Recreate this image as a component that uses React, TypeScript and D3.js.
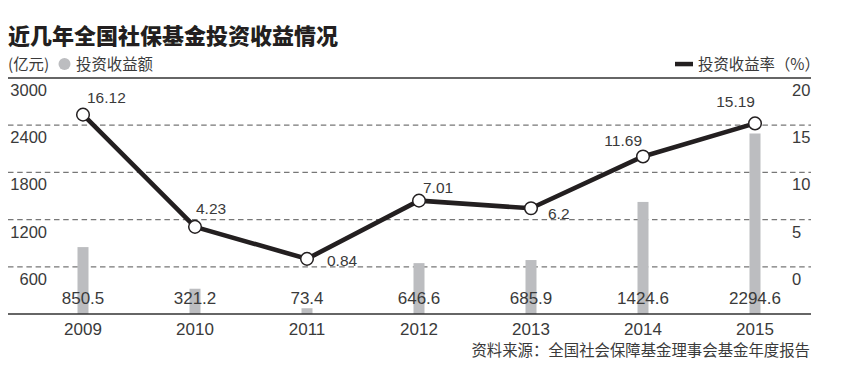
import React from 'react';
import * as d3 from 'd3';

const years = ['2009', '2010', '2011', '2012', '2013', '2014', '2015'];
const incomeValues = [850.5, 321.2, 73.4, 646.6, 685.9, 1424.6, 2294.6];
const returnRates = [16.12, 4.23, 0.84, 7.01, 6.2, 11.69, 15.19];
const leftTicks = [600, 1200, 1800, 2400, 3000];
const rightTicks = [0, 5, 10, 15, 20];

const titleText = '近几年全国社保基金投资收益情况';
const unitText = '(亿元)';
const barLegendText = '投资收益额';
const lineLegendText = '投资收益率（%）';
const sourceText = '资料来源：全国社会保障基金理事会基金年度报告';

// label placement for rate labels (layout only)
const rateLabelPlacement = [
  { anchor: 'start', dx: 4, dy: -11.6 },
  { anchor: 'start', dx: 1, dy: -12.6 },
  { anchor: 'start', dx: 20, dy: 7.4 },
  { anchor: 'start', dx: 4, dy: -7.4 },
  { anchor: 'start', dx: 17, dy: 11 },
  { anchor: 'end', dx: -1, dy: -10.3 },
  { anchor: 'end', dx: 0, dy: -16.8 },
];

const W = 849;
const H = 381;
const left = 8;
const right = 811;
const top = 78;
const base = 314;

const latin = '"Liberation Sans", Arial, Helvetica, sans-serif';
const cjk = '"Noto Sans CJK SC", "Liberation Sans", sans-serif';

export default function App() {
  const x = d3.scalePoint<string>().domain(years).range([83, 755]);
  const yL = d3.scaleLinear().domain([0, 3000]).range([base, top]);
  const yR = d3.scaleLinear().domain([0, 20]).range([yL(600), top]);

  const line = d3
    .line<number>()
    .x((_, i) => x(years[i]) as number)
    .y((d) => yR(d));

  const barW = 11;
  const textColor = '#3a3a3a';

  return (
    <svg
      width={W}
      height={H}
      style={{ position: 'absolute', left: 0, top: 0, background: '#fff' }}
    >
      {/* title */}
      <text x={left} y={43.5} fontFamily={cjk} fontWeight={900} fontSize={22} fill="#231f20">
        {titleText}
      </text>
      {/* legend left */}
      <text x={left} y={70} fontFamily={cjk} fontSize={15.4} fill={textColor}>
        {unitText}
      </text>
      <circle cx={64.5} cy={64} r={6} fill="#bcbdc0" />
      <text x={76} y={70} fontFamily={cjk} fontSize={15.4} fill={textColor}>
        {barLegendText}
      </text>
      {/* legend right */}
      <rect x={675} y={61.8} width={18} height={4.5} fill="#231f20" />
      <text x={698} y={70} textAnchor="start" fontFamily={cjk} fontSize={15.4} fill={textColor}>
        {lineLegendText}
      </text>

      {/* top line */}
      <line x1={left} x2={right} y1={top} y2={top} stroke="#333" strokeWidth={1.3} />

      {/* gridlines */}
      {leftTicks
        .filter((t) => t < 3000)
        .map((t) => (
          <line
            key={'g' + t}
            x1={left}
            x2={right}
            y1={yL(t)}
            y2={yL(t)}
            stroke="#777"
            strokeWidth={1.2}
            strokeDasharray="5.5,3.7"
          />
        ))}

      {/* left tick labels */}
      {leftTicks.map((t) => (
        <text
          key={'lt' + t}
          x={47}
          y={yL(t) + 18}
          textAnchor="end"
          fontFamily={latin}
          fontSize={16.5}
          fill={textColor}
        >
          {t}
        </text>
      ))}
      {/* right tick labels */}
      {rightTicks.map((t) => (
        <text
          key={'rt' + t}
          x={792}
          y={yR(t) + 18}
          textAnchor="start"
          fontFamily={latin}
          fontSize={16.5}
          fill={textColor}
        >
          {t}
        </text>
      ))}

      {/* bars */}
      {incomeValues.map((v, i) => (
        <rect
          key={'b' + i}
          x={(x(years[i]) as number) - barW / 2}
          y={yL(v)}
          width={barW}
          height={base - yL(v)}
          fill="#bcbdc0"
        />
      ))}

      {/* bar value labels */}
      {incomeValues.map((v, i) => (
        <text
          key={'bl' + i}
          x={x(years[i]) as number}
          y={304}
          textAnchor="middle"
          fontFamily={latin}
          fontSize={17}
          fill={textColor}
        >
          {v}
        </text>
      ))}

      {/* baseline axis */}
      <line x1={left} x2={right} y1={base} y2={base} stroke="#333" strokeWidth={1.5} />

      {/* year labels */}
      {years.map((yr) => (
        <text
          key={'y' + yr}
          x={x(yr) as number}
          y={335}
          textAnchor="middle"
          fontFamily={latin}
          fontSize={17}
          fill={textColor}
        >
          {yr}
        </text>
      ))}

      {/* rate line */}
      <path d={line(returnRates) || ''} fill="none" stroke="#231f20" strokeWidth={4.6} strokeLinejoin="round" />
      {returnRates.map((v, i) => (
        <circle
          key={'c' + i}
          cx={x(years[i]) as number}
          cy={yR(v)}
          r={6.3}
          fill="#fff"
          stroke="#231f20"
          strokeWidth={1.5}
        />
      ))}
      {returnRates.map((v, i) => {
        const p = rateLabelPlacement[i];
        return (
          <text
            key={'rl' + i}
            x={(x(years[i]) as number) + p.dx}
            y={yR(v) + p.dy}
            textAnchor={p.anchor as any}
            fontFamily={latin}
            fontSize={15.5}
            fill={textColor}
          >
            {String(v)}
          </text>
        );
      })}

      {/* source */}
      <text x={810} y={356} textAnchor="end" fontFamily={cjk} fontSize={15.4} fill={textColor}>
        {sourceText}
      </text>
    </svg>
  );
}
